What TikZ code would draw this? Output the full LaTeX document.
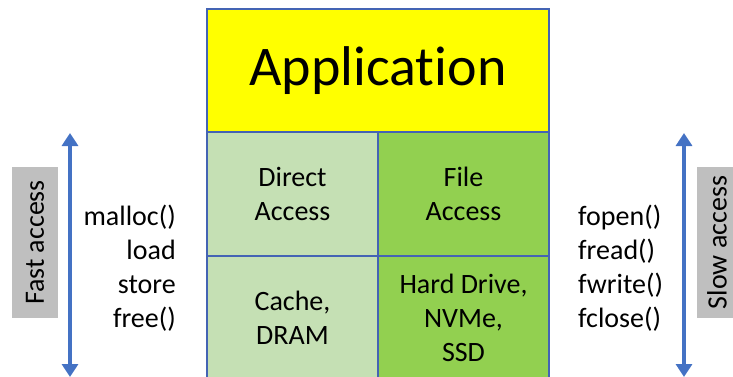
\documentclass[tikz,border=0pt]{standalone}
\usepackage{fontspec}
\setmainfont[Ligatures={NoCommon}]{Carlito}
\usepackage{xcolor}
\usetikzlibrary{arrows.meta, positioning}
\definecolor{appyellow}{RGB}{255,255,0}
\definecolor{lightgreen}{RGB}{197,224,180}
\definecolor{midgreen}{RGB}{146,208,80}
\definecolor{edgeblue}{RGB}{68,100,180}
\definecolor{arrowblue}{RGB}{68,114,196}
\definecolor{tagbg}{RGB}{191,191,191}
\tikzset{
  appbox/.style={rectangle, draw=edgeblue, fill=appyellow, line width=1.2pt, minimum width=342pt, minimum height=123pt, inner sep=0pt, font=\fontsize{56}{60}\selectfont},
  cell/.style={rectangle, draw=edgeblue, line width=1.2pt, minimum width=171pt, inner sep=0pt, align=center, font=\fontsize{28}{34}\selectfont},
  tag/.style={rectangle, fill=tagbg, minimum width=151pt, minimum height=46pt, inner sep=0pt, rotate=90, font=\fontsize{28}{34}\selectfont},
  calls/.style={inner sep=0pt, font=\fontsize{28}{34}\selectfont},
  speed/.style={{Triangle[width=16pt, length=13pt]}-{Triangle[width=16pt, length=13pt]}, line width=4pt, arrowblue},
}

\begin{document}
\begin{tikzpicture}[x=1pt, y=-1pt]
  \useasboundingbox (0,0) rectangle (733,377);

  % Stack
  \node[appbox] (app) at (378, 70.5) {Application};
  \node[cell, fill=lightgreen, minimum height=124pt] (direct) at (292.5, 194) {Direct\\Access};
  \node[cell, fill=midgreen, minimum height=124pt] (file) at (463.5, 194) {File\\Access};
  \node[cell, fill=lightgreen, minimum height=124pt] (dram) at (292.5, 318) {Cache,\\DRAM};
  \node[cell, fill=midgreen, minimum height=124pt] (disk) at (463.5, 318) {Hard Drive,\\NVMe,\\SSD};

  % Fast side
  \node[tag] (fast) at (35, 242.5) {Fast access};
  \coordinate (fastTop) at (70, 133);
  \coordinate (fastBot) at (70, 377);
  \draw[speed] (fastTop) -- (fastBot);
  \node[calls, align=right, anchor=east] (memcalls) at (176, 268) {malloc()\\load\\store\\free()};

  % Slow side
  \node[tag, minimum height=40pt] (slow) at (717, 242.5) {Slow access};
  \coordinate (slowTop) at (684, 133);
  \coordinate (slowBot) at (684, 377);
  \draw[speed] (slowTop) -- (slowBot);
  \node[calls, align=left, anchor=west] (filecalls) at (578, 268) {fopen()\\fread()\\fwrite()\\fclose()};
\end{tikzpicture}
\end{document}
